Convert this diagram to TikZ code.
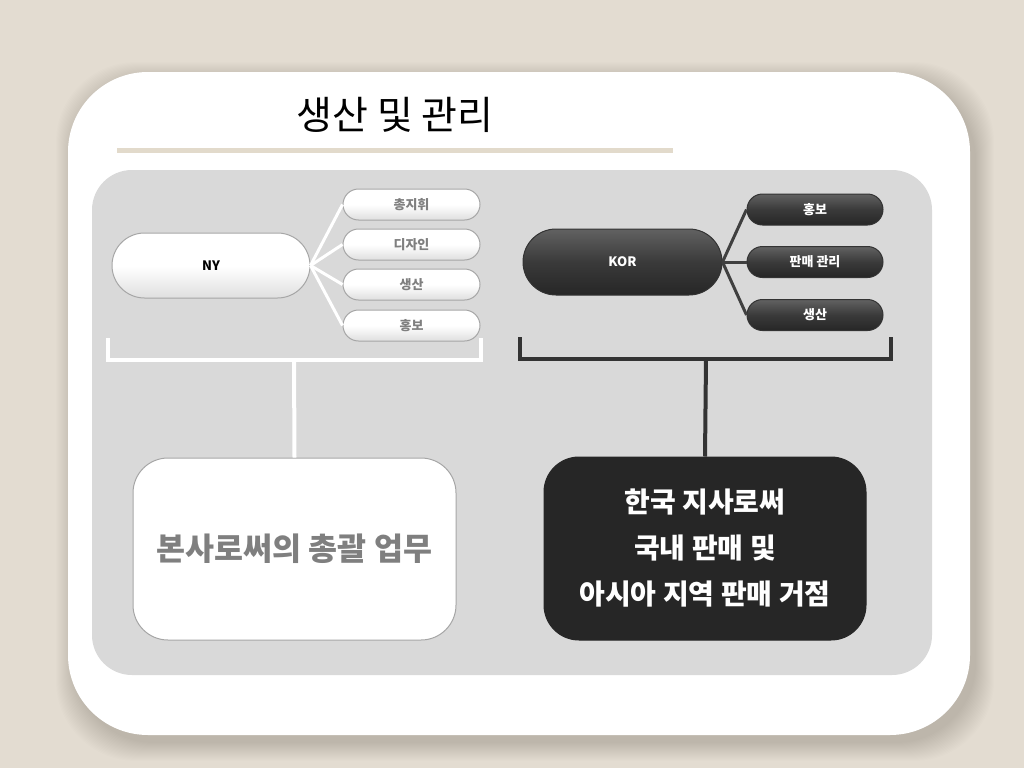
\documentclass[tikz,border=0pt]{standalone}
\usepackage{fontspec}
\newfontfamily\kr{Noto Sans CJK KR}
\usetikzlibrary{shapes.misc}
\definecolor{bg}{HTML}{E3DCD1}
\definecolor{panel}{HTML}{D9D9D9}
\definecolor{rule}{HTML}{E2DACB}
\definecolor{darkbox}{HTML}{262626}
\definecolor{darkpill}{HTML}{3A3A3A}
\definecolor{txtgray}{HTML}{7F7F7F}
\tikzset{
  lightpill/.style={rounded rectangle, draw=gray!70, line width=1pt,
    top color=white, bottom color=gray!25, middle color=white,
    inner sep=0pt, font=\kr\bfseries\fontsize{13}{15}\selectfont, text=txtgray},
  darkpillst/.style={rounded rectangle, draw=black!80, line width=1pt,
    top color=darkpill!80, bottom color=black!85, middle color=darkpill,
    inner sep=0pt, font=\kr\bfseries\fontsize{13}{15}\selectfont, text=white},
  lightlink/.style={white, line width=3pt},
  darklink/.style={black!75, line width=3pt},
}
\begin{document}
\begin{tikzpicture}[x=1pt,y=-1pt]
\useasboundingbox (0,0) rectangle (1024,768);
\fill[bg] (0,0) rectangle (1024,768);
% soft shadow of panel
\foreach \i in {0,...,18}{
  \fill[black, opacity=0.008, rounded corners=80]
    (68+6-\i,72+8-\i) rectangle (970+6+\i,735+8+\i);
}
\fill[white, rounded corners=80] (68,72) rectangle (970,735);
% title
\node[font=\kr\fontsize{39}{44}\selectfont] (title) at (395,115) {생산 및 관리};
\draw[rule, line width=5pt] (117,150) -- (673,150);
% gray panel
\fill[panel, rounded corners=40] (92,170) rectangle (932,675);

% NY tree
\node[lightpill, minimum width=198pt, minimum height=65pt, text=black] (ny) at (211,265.5) {NY};
\node[lightpill, minimum width=137pt, minimum height=31pt] (n1) at (411.5,204.5) {총지휘};
\node[lightpill, minimum width=137pt, minimum height=31pt] (n2) at (411.5,244.5) {디자인};
\node[lightpill, minimum width=137pt, minimum height=31pt] (n3) at (411.5,284.5) {생산};
\node[lightpill, minimum width=137pt, minimum height=31pt] (n4) at (411.5,325.5) {홍보};
\foreach \n in {n1,n2,n3,n4}{ \draw[lightlink] (ny.east) -- (\n.west); }

% KOR tree
\node[darkpillst, minimum width=199pt, minimum height=66pt] (kor) at (622.5,262) {KOR};
\node[darkpillst, minimum width=136pt, minimum height=31pt] (k1) at (815,209.5) {홍보};
\node[darkpillst, minimum width=136pt, minimum height=31pt] (k2) at (815,262) {판매 관리};
\node[darkpillst, minimum width=136pt, minimum height=31pt] (k3) at (815,315) {생산};
\foreach \n in {k1,k2,k3}{ \draw[darklink] (kor.east) -- (\n.west); }

% bottom boxes
\node[rounded corners=35, draw=gray!70, line width=1pt, fill=white,
  minimum width=323pt, minimum height=182pt, inner sep=0pt,
  font=\kr\bfseries\fontsize{31.5}{34}\selectfont, text=txtgray] (hq) at (294.5,549) {본사로써의 총괄 업무};
\node[rounded corners=35, draw=black!85, line width=1pt, fill=darkbox,
  minimum width=322pt, minimum height=183pt, inner sep=0pt, align=center,
  font=\kr\bfseries\fontsize{28}{46}\selectfont, text=white] (br) at (705,548.5) {한국 지사로써\\국내 판매 및\\아시아 지역 판매 거점};

% brackets
\coordinate (nyb) at (294,360);
\coordinate (korb) at (706,359);
\draw[white, line width=4pt] (108,338) |- (481,360) -- (481,338);
\draw[white, line width=4pt] (nyb) -- (hq.north);
\draw[black!80, line width=4pt] (520,337) |- (891,359) -- (891,337);
\draw[black!80, line width=4pt] (korb) -- (br.north);
\end{tikzpicture}
\end{document}
